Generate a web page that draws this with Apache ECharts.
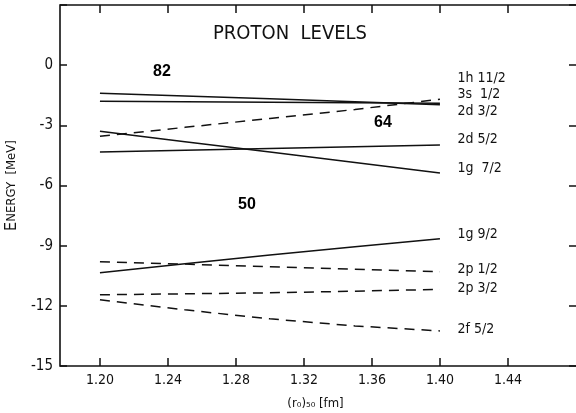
<!DOCTYPE html>
<html><head><meta charset="utf-8">
<script src="https://cdn.jsdelivr.net/npm/echarts@6/dist/echarts.min.js"></script>
<style>html,body{margin:0;padding:0;background:#fff}#c{width:576px;height:413px}</style>
</head><body><div id="c"></div>
<script>
// Data
const radius = [1.20, 1.25, 1.30, 1.35, 1.40];
const lvl_1h11 = [-1.40, -1.54, -1.68, -1.83, -1.97];
const lvl_2d3  = [-1.80, -1.82, -1.85, -1.87, -1.90];
const lvl_3s1  = [-3.55, -3.10, -2.66, -2.21, -1.70];
const lvl_1g7  = [-3.30, -3.82, -4.33, -4.85, -5.38];
const lvl_2d5  = [-4.33, -4.24, -4.16, -4.07, -3.98];
const lvl_1g9  = [-10.35, -9.90, -9.47, -9.06, -8.65];
const lvl_2p1  = [-9.80, -9.92, -10.05, -10.18, -10.30];
const lvl_2p3  = [-11.45, -11.40, -11.35, -11.27, -11.18];
const lvl_2f5  = [-11.70, -12.20, -12.65, -13.00, -13.25];
const levelNames = ["1h 11/2", "3s  1/2", "2d 3/2", "2d 5/2", "1g  7/2", "1g 9/2", "2p 1/2", "2p 3/2", "2f 5/2"];
const labelX = 1.4100;
const labelY = [-0.65, -1.45, -2.29, -3.69, -5.13, -8.42, -10.17, -11.12, -13.16];
const magicNames = ["82", "64", "50"];
const magicX = [1.2365, 1.3665, 1.2865];
const magicY = [-0.32, -2.84, -6.93];
const xTicks = [1.20, 1.24, 1.28, 1.32, 1.36, 1.40, 1.44];

const narrow = "'DejaVu Sans Condensed', 'Liberation Sans Narrow', 'Liberation Sans', sans-serif";
const solid = [
  ["1h 11/2", lvl_1h11], ["2d 3/2", lvl_2d3], ["1g 7/2", lvl_1g7], ["2d 5/2", lvl_2d5], ["1g 9/2", lvl_1g9]
];
const dashed = [
  ["3s 1/2", lvl_3s1], ["2p 1/2", lvl_2p1], ["2p 3/2", lvl_2p3], ["2f 5/2", lvl_2f5]
];
const series = [];
solid.forEach(([n, v]) => series.push({
  type: 'line', name: n, data: radius.map((x, i) => [x, v[i]]), showSymbol: false, symbol: 'none',
  lineStyle: {color: '#111', width: 1.5, type: 'solid'}, silent: true
}));
dashed.forEach(([n, v]) => series.push({
  type: 'line', name: n, data: radius.map((x, i) => [x, v[i]]), showSymbol: false, symbol: 'none',
  lineStyle: {color: '#111', width: 1.5, type: [10, 7]}, silent: true
}));
series.push({
  type: 'scatter', symbolSize: 1, silent: true, itemStyle: {opacity: 0},
  data: levelNames.map((n, i) => ({value: [labelX, labelY[i]], name: n})),
  label: {show: true, position: 'right', distance: 0, formatter: p => p.name, opacity: 1,
    color: '#111', fontSize: 14, fontFamily: narrow}
});
series.push({
  type: 'scatter', symbolSize: 1, silent: true, itemStyle: {opacity: 0},
  data: magicNames.map((n, i) => ({value: [magicX[i], magicY[i]], name: n})),
  label: {show: true, position: 'inside', formatter: p => p.name, opacity: 1,
    color: '#000', fontSize: 16, fontWeight: 'bold', fontFamily: "'Liberation Sans', Arial, sans-serif"}
});

const noLine = {show: false, onZero: false};
const tickStyle = {color: '#111', width: 1.5};
const option = {
  animation: false,
  backgroundColor: '#fff',
  title: {text: 'PROTON  LEVELS', left: 208, top: 19,
    textStyle: {fontSize: 20, fontWeight: 'normal', color: '#111', fontFamily: narrow}},
  grid: {left: 60, top: 5, width: 519, height: 361, outerBoundsMode: 'none', containLabel: false,
    show: true, borderColor: '#111', borderWidth: 1.6, backgroundColor: 'transparent'},
  xAxis: [{
    type: 'value', min: 1.1765, max: 1.4818, position: 'bottom',
    axisLine: noLine, splitLine: {show: false},
    axisTick: {show: true, inside: true, length: 8, customValues: xTicks, lineStyle: tickStyle},
    axisLabel: {show: true, customValues: xTicks, formatter: v => v.toFixed(2), color: '#111', fontSize: 14, margin: 7, fontFamily: narrow},
    name: '(r\u2080)\u2085\u2080 [fm]', nameLocation: 'middle', nameGap: 31,
    nameTextStyle: {color: '#111', fontSize: 13, fontFamily: narrow, padding: [0, 8, 0, 0]}
  }, {
    type: 'value', min: 1.1765, max: 1.4818, position: 'top',
    axisLine: noLine, splitLine: {show: false},
    axisTick: {show: true, inside: true, length: 8, customValues: xTicks, lineStyle: tickStyle},
    axisLabel: {show: false}
  }],
  yAxis: [{
    type: 'value', min: -15, max: 3, interval: 3, position: 'left',
    axisLine: noLine, splitLine: {show: false},
    axisTick: {show: true, inside: true, length: 7, lineStyle: tickStyle},
    axisLabel: {color: '#111', fontSize: 15, margin: 7, fontFamily: narrow, formatter: v => v > 0 ? '' : String(v)},
    name: '{b|E}{a|NERGY  [MeV]}', nameLocation: 'middle', nameGap: 38, nameRotate: 90,
    nameTextStyle: {rich: {b: {fontSize: 16, color: '#111', fontFamily: narrow}, a: {fontSize: 13, color: '#111', fontFamily: narrow}}}
  }, {
    type: 'value', min: -15, max: 3, interval: 3, position: 'right',
    axisLine: noLine, splitLine: {show: false},
    axisTick: {show: true, inside: true, length: 10, lineStyle: tickStyle},
    axisLabel: {show: false}
  }],
  series: series
};
const chart = echarts.init(document.getElementById('c'), null, {renderer: 'canvas'});
chart.setOption(option);
</script></body></html>
